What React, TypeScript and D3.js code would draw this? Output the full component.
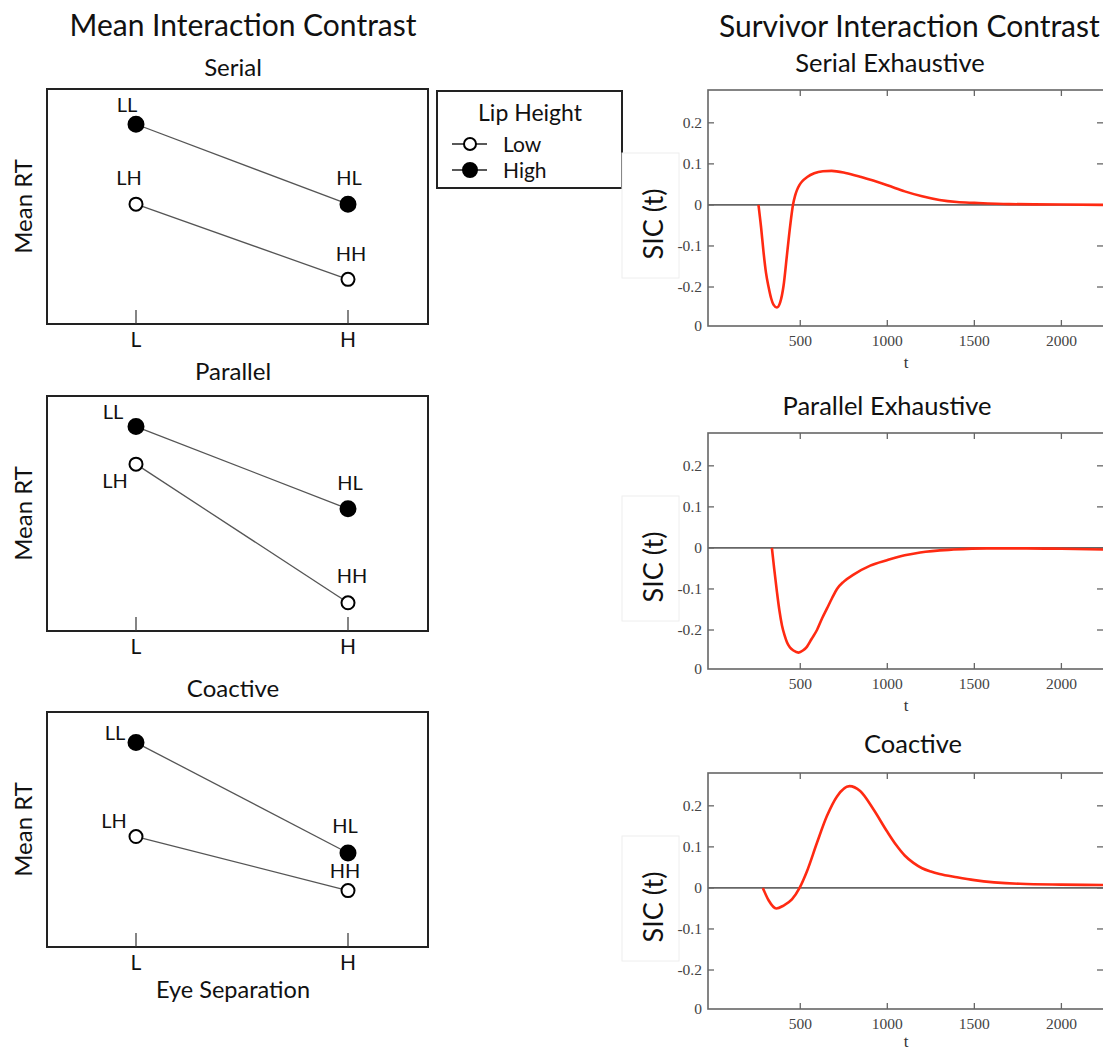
import React, { useEffect, useRef } from "react";
import * as d3 from "d3";

// ---------- Mean Interaction Contrast (mean RT, arbitrary units 0-100) ----------
const micTitles = ["Serial", "Parallel", "Coactive"];
const eyeLevels = ["L", "H"];
const lowLabels = ["LH", "HH"];
const highLabels = ["LL", "HL"];
const serialLow = [51, 19];
const serialHigh = [85, 51];
const parallelLow = [71, 12];
const parallelHigh = [87, 52];
const coactiveLow = [47, 24];
const coactiveHigh = [87, 40];
const legendTitle = "Lip Height";
const legendItems = ["Low", "High"];

// ---------- Survivor Interaction Contrast ----------
const sicTitles = ["Serial Exhaustive", "Parallel Exhaustive", "Coactive"];
const xTickValues = [500, 1000, 1500, 2000];
const yTickValues = [-0.295, -0.2, -0.1, 0, 0.1, 0.2];
const yTickLabels = ["0", "-0.2", "-0.1", "0", "0.1", "0.2"];

const serialT = [260, 275, 289, 303, 318, 333, 346, 366, 385, 404, 423, 442, 458, 470, 481, 495, 510, 540, 580, 630, 680, 760, 850, 1000, 1100, 1200, 1300, 1400, 1500, 1700, 2000, 2270];
const serialSic = [0, -0.055, -0.115, -0.165, -0.2, -0.228, -0.243, -0.25, -0.237, -0.197, -0.124, -0.051, 0, 0.022, 0.036, 0.048, 0.057, 0.068, 0.077, 0.082, 0.083, 0.078, 0.068, 0.048, 0.033, 0.021, 0.012, 0.007, 0.005, 0.002, 0.001, 0.0];

const parallelT = [337, 350, 366, 380, 395, 410, 423, 440, 461, 490, 515, 538, 565, 596, 625, 653, 683, 711, 750, 806, 902, 998, 1100, 1189, 1381, 1572, 1800, 2000, 2270];
const parallelSic = [0, -0.05, -0.107, -0.152, -0.189, -0.213, -0.229, -0.242, -0.25, -0.255, -0.25, -0.241, -0.222, -0.2, -0.172, -0.148, -0.122, -0.1, -0.082, -0.065, -0.043, -0.03, -0.018, -0.011, -0.004, -0.001, -0.001, -0.002, -0.004];

const coactiveT = [285, 318, 362, 404, 452, 496, 538, 596, 653, 711, 783, 844, 921, 998, 1050, 1100, 1150, 1200, 1250, 1300, 1400, 1500, 1763, 2000, 2270];
const coactiveSic = [0, -0.03, -0.05, -0.043, -0.028, 0, 0.04, 0.11, 0.175, 0.223, 0.248, 0.236, 0.191, 0.138, 0.105, 0.079, 0.061, 0.048, 0.04, 0.034, 0.026, 0.019, 0.01, 0.008, 0.007];

const SANS = "Lato, 'Open Sans', sans-serif";
const SERIF = "'Liberation Serif', 'DejaVu Serif', serif";

export default function App() {
  const ref = useRef<SVGSVGElement>(null);

  useEffect(() => {
    const svg = d3.select(ref.current);
    svg.selectAll("*").remove();

    // ================= LEFT: MIC panels =================
    svg.append("text").attr("x", 243).attr("y", 36).attr("text-anchor", "middle")
      .attr("font-family", SANS).attr("font-size", 30).attr("fill", "#111")
      .text("Mean Interaction Contrast");

    const micLow = [serialLow, parallelLow, coactiveLow];
    const micHigh = [serialHigh, parallelHigh, coactiveHigh];
    const boxTops = [89, 396, 712];
    const titleY = [76, 380, 697];
    const boxLeft = 47, boxRight = 428, boxH = 235;
    // label offsets from their point [dx, dy], per panel: [LL, HL] and [LH, HH]
    const highOff = [[[-9, -12], [1, -19]], [[-23, -8], [2, -19]], [[-21, -3], [-3, -20]]];
    const lowOff = [[[-7, -19], [3, -18]], [[-21, 24], [4, -20]], [[-22, -9], [-3, -13]]];

    const x = d3.scalePoint<string>().domain(eyeLevels).range([136, 348]);

    micTitles.forEach((title, i) => {
      const top = boxTops[i];
      const y = d3.scaleLinear().domain([0, 100]).range([top + boxH, top]);
      const g = svg.append("g");

      g.append("text").attr("x", 233).attr("y", titleY[i]).attr("text-anchor", "middle")
        .attr("font-family", SANS).attr("font-size", 24).attr("fill", "#111").text(title);

      g.append("rect").attr("x", boxLeft).attr("y", top).attr("width", boxRight - boxLeft)
        .attr("height", boxH).attr("fill", "none").attr("stroke", "#222").attr("stroke-width", 2);

      eyeLevels.forEach(l => {
        g.append("line").attr("x1", x(l)).attr("x2", x(l)).attr("y1", top + boxH)
          .attr("y2", top + boxH - 14).attr("stroke", "#333").attr("stroke-width", 1.2);
        g.append("text").attr("x", x(l)).attr("y", top + boxH + 23).attr("text-anchor", "middle")
          .attr("font-family", SANS).attr("font-size", 21).attr("fill", "#111").text(l);
      });

      g.append("text").attr("transform", `translate(32,${top + boxH / 2}) rotate(-90)`)
        .attr("text-anchor", "middle").attr("font-family", SANS).attr("font-size", 24)
        .attr("fill", "#111").text("Mean RT");

      const line = d3.line<number>().x((_, k) => x(eyeLevels[k])!).y(d => y(d));
      [micHigh[i], micLow[i]].forEach((vals, s) => {
        g.append("path").attr("d", line(vals)).attr("fill", "none")
          .attr("stroke", "#555").attr("stroke-width", 1.3);
        const labels = s === 0 ? highLabels : lowLabels;
        const off = s === 0 ? highOff[i] : lowOff[i];
        vals.forEach((v, k) => {
          const cx = x(eyeLevels[k])!, cy = y(v);
          g.append("circle").attr("cx", cx).attr("cy", cy).attr("r", s === 0 ? 7.5 : 6.5)
            .attr("fill", s === 0 ? "#000" : "#fff").attr("stroke", "#000").attr("stroke-width", 2);
          g.append("text").attr("x", cx + off[k][0]).attr("y", cy + off[k][1])
            .attr("text-anchor", "middle").attr("font-family", SANS).attr("font-size", 20)
            .attr("fill", "#111").text(labels[k]);
        });
      });
    });

    svg.append("text").attr("x", 233).attr("y", 998).attr("text-anchor", "middle")
      .attr("font-family", SANS).attr("font-size", 23.5).attr("fill", "#111").text("Eye Separation");

    // legend
    const lg = svg.append("g");
    lg.append("rect").attr("x", 437).attr("y", 91).attr("width", 185).attr("height", 97)
      .attr("fill", "#fff").attr("stroke", "#222").attr("stroke-width", 2);
    lg.append("text").attr("x", 530).attr("y", 121).attr("text-anchor", "middle")
      .attr("font-family", SANS).attr("font-size", 23).attr("fill", "#111").text(legendTitle);
    legendItems.forEach((item, k) => {
      const cy = 144 + k * 26;
      lg.append("line").attr("x1", 452).attr("x2", 487).attr("y1", cy).attr("y2", cy)
        .attr("stroke", "#222").attr("stroke-width", 1.3);
      lg.append("circle").attr("cx", 470).attr("cy", cy).attr("r", k === 1 ? 7 : 6)
        .attr("fill", k === 1 ? "#000" : "#fff").attr("stroke", "#000").attr("stroke-width", 2);
      lg.append("text").attr("x", 503).attr("y", cy + 8).attr("font-family", SANS)
        .attr("font-size", 21).attr("fill", "#111").text(item);
    });

    // ================= RIGHT: SIC panels =================
    svg.append("text").attr("x", 719).attr("y", 37).attr("font-family", SANS)
      .attr("font-size", 30).attr("fill", "#111").text("Survivor Interaction Contrast");

    const sicT = [serialT, parallelT, coactiveT];
    const sicV = [serialSic, parallelSic, coactiveSic];
    const sicTops = [90, 433, 773];
    const sicTitleY = [72, 415, 753];
    const sicTitleX = [890, 887, 913];
    const plotH = 236;
    const xs = d3.scaleLinear().domain([-30, 2285]).range([708, 1111]);

    sicTitles.forEach((title, i) => {
      const top = sicTops[i];
      const ys = d3.scaleLinear().domain([-0.295, 0.28]).range([top + plotH, top]);
      const g = svg.append("g");

      g.append("text").attr("x", sicTitleX[i]).attr("y", sicTitleY[i]).attr("text-anchor", "middle")
        .attr("font-family", SANS).attr("font-size", 25.5).attr("fill", "#111").text(title);

      // faint box behind the y label
      g.append("rect").attr("x", 622).attr("y", top + 63).attr("width", 57).attr("height", 125)
        .attr("fill", "#fff").attr("stroke", "#eeeeee").attr("stroke-width", 1);

      g.append("text").attr("transform", `translate(663,${top + 134}) rotate(-90)`)
        .attr("text-anchor", "middle").attr("font-family", SANS).attr("font-size", 27)
        .attr("fill", "#111").text("SIC (t)");

      g.append("rect").attr("x", 708).attr("y", top).attr("width", 403).attr("height", plotH)
        .attr("fill", "none").attr("stroke", "#666").attr("stroke-width", 1.6);

      // ticks on all sides
      xTickValues.forEach(t => {
        g.append("line").attr("x1", xs(t)).attr("x2", xs(t)).attr("y1", top).attr("y2", top + 6)
          .attr("stroke", "#666").attr("stroke-width", 1.3);
        g.append("line").attr("x1", xs(t)).attr("x2", xs(t)).attr("y1", top + plotH)
          .attr("y2", top + plotH - 6).attr("stroke", "#666").attr("stroke-width", 1.3);
        g.append("text").attr("x", xs(t)).attr("y", top + plotH + 20).attr("text-anchor", "middle")
          .attr("font-family", SERIF).attr("font-size", 15.5).attr("fill", "#444").text(t);
      });
      yTickValues.forEach((v, k) => {
        if (k > 0) {
          g.append("line").attr("x1", 708).attr("x2", 714).attr("y1", ys(v)).attr("y2", ys(v))
            .attr("stroke", "#666").attr("stroke-width", 1.3);
          g.append("line").attr("x1", 1097).attr("x2", 1111).attr("y1", ys(v)).attr("y2", ys(v))
            .attr("stroke", "#666").attr("stroke-width", 1.3);
        }
        g.append("text").attr("x", 702).attr("y", ys(v)).attr("dy", "0.35em")
          .attr("text-anchor", "end").attr("font-family", SERIF).attr("font-size", 15.5)
          .attr("fill", "#444").text(yTickLabels[k]);
      });

      g.append("text").attr("x", 906).attr("y", Math.min(top + plotH + 42, 1047))
        .attr("text-anchor", "middle")
        .attr("font-family", SERIF).attr("font-size", 17).attr("fill", "#333").text("t");

      // zero line
      g.append("line").attr("x1", 708).attr("x2", 1111).attr("y1", ys(0)).attr("y2", ys(0))
        .attr("stroke", "#666").attr("stroke-width", 1.6);

      const pts = sicT[i].map((t, k) => [t, sicV[i][k]] as [number, number]);
      const curve = d3.line<[number, number]>().x(d => xs(d[0])).y(d => ys(d[1]))
        .curve(d3.curveMonotoneX);
      g.append("path").attr("d", curve(pts)).attr("fill", "none")
        .attr("stroke", "#ff2a12").attr("stroke-width", 2.6).attr("stroke-linejoin", "round");
    });
  }, []);

  return (
    <svg ref={ref} width={1103} height={1052}
      style={{ position: "absolute", left: 0, top: 0, background: "#fff" }} />
  );
}
